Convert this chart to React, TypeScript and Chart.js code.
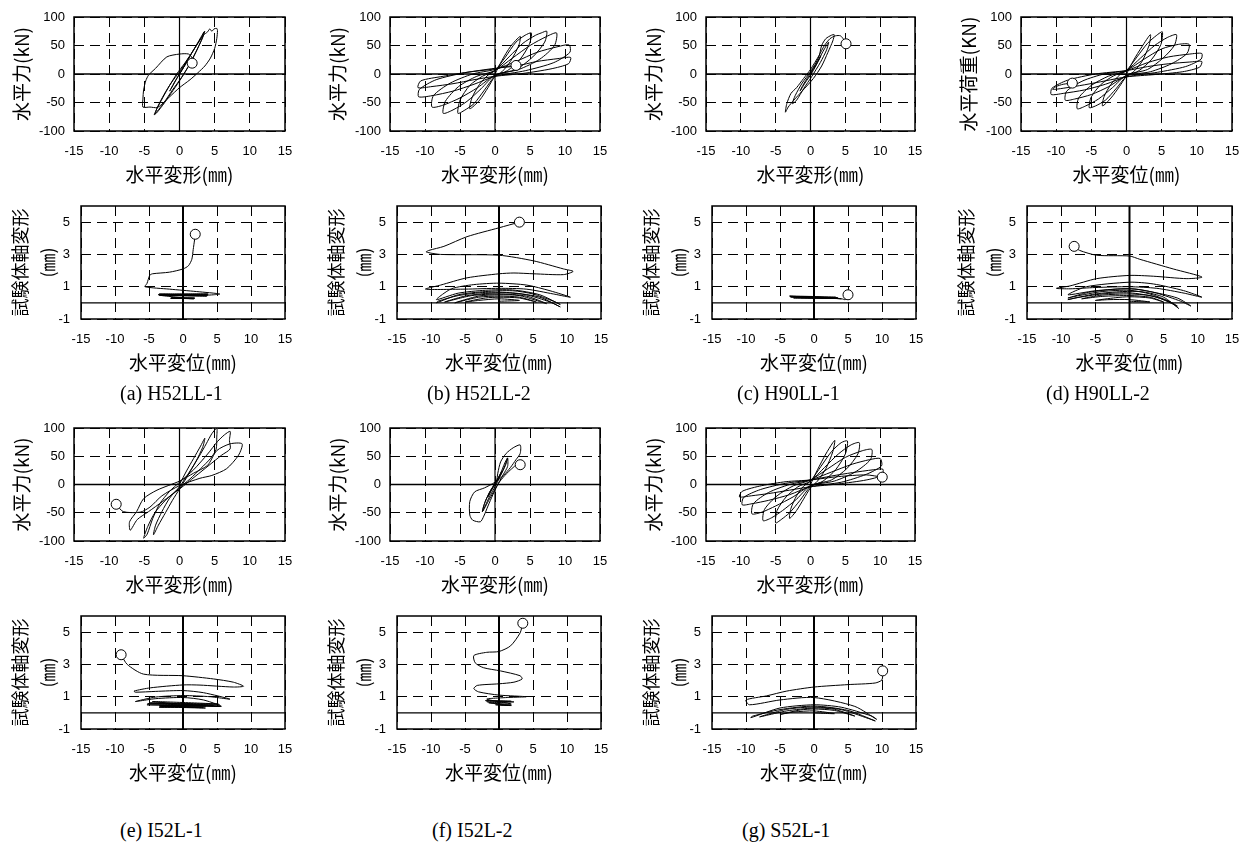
import React, { useEffect, useRef } from "react";
import { Chart, registerables } from "chart.js";

Chart.register(...registerables);

type Pt = [number, number];

// ---------- axes ----------
const X_TICKS = [-15, -10, -5, 0, 5, 10, 15];
const FORCE_TICKS = [-100, -50, 0, 50, 100];
const AXIAL_TICKS = [-1, 1, 3, 5];
const X_MIN = -15;
const X_MAX = 15;
const FORCE_MIN = -100;
const FORCE_MAX = 100;
const AXIAL_MIN = -1;
const AXIAL_MAX = 6;

// ---------- texts ----------
const CAPTIONS = ["(a) H52LL-1", "(b) H52LL-2", "(c) H90LL-1", "(d) H90LL-2", "(e) I52L-1", "(f) I52L-2", "(g) S52L-1"];
const FORCE_Y_TITLES = ["水平力(kN)", "水平力(kN)", "水平力(kN)", "水平荷重(KN)", "水平力(kN)", "水平力(kN)", "水平力(kN)"];
const FORCE_X_TITLES = ["水平変形(㎜)", "水平変形(㎜)", "水平変形(㎜)", "水平変位(㎜)", "水平変形(㎜)", "水平変形(㎜)", "水平変形(㎜)"];
const AXIAL_Y_TITLE = ["試験体軸変形", "(㎜)"];
const AXIAL_X_TITLE = "水平変位(㎜)";

// ---------- data: [horizontal displacement (mm), value] ----------
const A_FORCE: Pt[] = [
  [0, 0], [0.7, 14], [1.4, 30], [1.1, 24], [0.2, 4], [-0.7, -14], [-1.4, -30], [-1.1, -24], [-0.2, -4],
  [0.8, 16], [1.8, 38], [2.6, 55], [3.4, 72], [3.6, 75], [3.3, 64], [2.4, 40], [1.4, 16], [0.3, -6], [-1, -28], [-2.2, -50], [-3.2, -66], [-3.6, -72], [-3.3, -63], [-2.4, -42], [-1.4, -20], [-0.4, 0],
  [0.8, 20], [2, 42], [3.2, 66], [3.5, 74], [3.2, 62], [2.3, 38], [1.2, 12], [0, -12], [-1.2, -34], [-2.4, -55], [-3.4, -70], [-3.2, -60], [-2.2, -36], [-1.2, -16], [0, 4],
  [1.2, 26], [2.4, 50], [3.4, 68], [4, 74], [4.3, 79], [4.6, 75], [4.9, 79], [5.3, 80], [5.4, 76], [5.3, 62], [5, 45], [4.4, 28], [3.6, 14], [2.6, 2], [1.5, -10], [0, -24], [-1.4, -40], [-2.6, -54], [-3.2, -59], [-4.2, -58], [-5.2, -58], [-5.2, -44], [-5.1, -28], [-4.8, -12], [-4.4, -2], [-3.4, 10], [-1.8, 30], [0, 35], [1.3, 35], [1.8, 28], [1.8, 19],
];
const A_AXIAL: Pt[] = [
  [0, 0.3], [1.7, 0.28], [-1.8, 0.3], [1.6, 0.25], [-1.7, 0.32], [1.7, 0.3], [-1.8, 0.27], [0, 0.3],
  [-3.5, 0.48], [3.6, 0.45], [-3.6, 0.52], [3.7, 0.5], [-3.4, 0.46], [3.5, 0.42], [-3.6, 0.5], [3.7, 0.55], [-3.5, 0.55], [3.6, 0.48],
  [5.4, 0.55], [2, 0.7], [-2, 0.85], [-5.6, 1.0], [-5.3, 1.2], [-4.9, 1.7], [-4.5, 1.8], [-2, 1.9], [0, 2.1], [0.8, 2.3], [1.3, 2.7], [1.5, 3.3], [1.7, 3.9], [1.8, 4.25],
];

const B_FORCE: Pt[] = [
  [0, 0], [1, 24], [2.2, 48], [3.6, 66], [3.4, 50], [2.2, 22], [1, 4], [0, -4], [-1, -24], [-2.2, -46], [-3.6, -61], [-3.3, -42], [-2.2, -18], [-1, -2], [0, 6],
  [1.5, 30], [3, 56], [4.3, 68], [5.2, 72], [4.9, 52], [3.6, 26], [1.8, 6], [0, -4], [-1.5, -28], [-3, -52], [-4.4, -64], [-5.3, -69], [-5, -46], [-3.6, -20], [-1.8, -4], [0, 6],
  [2, 30], [4, 54], [5.8, 68], [6.6, 72], [7.4, 75], [7.1, 56], [5.4, 30], [3, 8], [0, -2], [-2, -26], [-4, -48], [-6, -63], [-7.4, -69], [-7.1, -48], [-5.2, -22], [-2.6, -4], [0, 6],
  [2.5, 28], [5, 50], [7.4, 66], [8.8, 72], [8.5, 50], [6.4, 26], [3.4, 8], [0, -2], [-2.5, -24], [-5, -42], [-7.5, -55], [-9, -58], [-8.8, -38], [-6.4, -16], [-3.2, 0], [0, 8],
  [3, 22], [6, 38], [9, 48], [10.6, 51], [10.7, 38], [8.4, 20], [4.4, 6], [0, -4], [-3, -18], [-6, -30], [-9, -38], [-10.9, -40], [-10.8, -27], [-8.4, -10], [-4.4, 2], [0, 10],
  [3, 14], [6, 22], [9, 27], [10.8, 29], [10.5, 18], [8, 9], [4, 1], [0, -4], [-3, -10], [-6, -17], [-9, -22], [-11, -24], [-10.6, -12], [-7.4, -4], [-4, 3], [0, 9], [1.5, 13], [3, 15],
];
const B_AXIAL: Pt[] = [
  [0, 0.1], [3, 0.15], [0, 0.25], [-3, 0.15], [-5, 0.05], [-2, 0.3], [0, 0.35], [3, 0.3], [5.5, 0.05], [3, 0.35], [0, 0.42], [-3, 0.35], [-6.5, 0.0], [-3, 0.42], [0, 0.5], [3, 0.45], [7, -0.05],
  [4, 0.42], [0, 0.55], [-4, 0.45], [-8, 0.05], [-5, 0.42], [-2, 0.58], [1, 0.62], [4, 0.5], [7.5, 0.05], [9, -0.25], [6, 0.35], [2, 0.62], [-2, 0.65], [-6, 0.45], [-9, 0.1], [-9.2, 0.0],
  [-6, 0.5], [-2, 0.7], [2, 0.75], [5, 0.55], [8, 0.1], [9, -0.1], [6, 0.5], [2, 0.8], [-2, 0.78], [-6, 0.6], [-9.2, 0.2],
  [-7, 0.87], [-3.7, 1.13], [0, 1.22], [4.1, 1.1], [7.5, 0.75], [10.5, 0.35], [8, 0.55], [4, 0.85], [0, 0.9], [-5, 0.85], [-10.8, 0.85],
  [-8.6, 1.1], [-4.7, 1.55], [0, 1.8], [2.2, 1.85], [5.1, 1.8], [9.5, 1.75], [10.9, 1.95], [9.5, 2.1], [5.1, 2.6], [0, 2.95], [-8.6, 3.0], [-10.7, 3.15],
  [-10.3, 3.25], [-8.1, 3.5], [-4.7, 4.1], [0, 4.65], [3, 5.0],
];

const C_FORCE: Pt[] = [
  [0, 0], [0.8, 16], [1.5, 32], [1.1, 22], [0.2, 2], [-0.8, -16], [-1.5, -30], [-1.1, -20], [-0.2, -2],
  [1, 22], [2, 44], [2.6, 56], [2.3, 42], [1.4, 20], [0.2, -4], [-1, -26], [-2, -46], [-2.6, -52], [-2.2, -38], [-1.2, -16], [0, 4],
  [1.2, 30], [1.6, 50], [2.2, 62], [3, 68], [3.4, 69], [3.2, 58], [2.5, 38], [1.6, 14], [0.4, -8], [-1.2, -30], [-2.4, -46], [-3.2, -58], [-3.6, -67], [-3.4, -52], [-2.8, -34], [-2, -24], [-1, -8], [0, 8],
  [1.2, 32], [2, 50], [2.8, 62], [3.6, 67], [4.3, 67], [4.8, 60], [5.1, 53],
];
const C_AXIAL: Pt[] = [
  [0, 0.3], [-2, 0.32], [2, 0.28], [-3, 0.38], [3, 0.3], [-3.5, 0.4], [3.5, 0.32], [-3.4, 0.36], [4, 0.26], [-3.6, 0.42], [3.2, 0.35], [-3, 0.3], [3.6, 0.28], [-3.5, 0.38], [0, 0.36], [4.2, 0.24], [4.6, 0.2], [5.0, 0.5],
];

const D_FORCE: Pt[] = [
  [0, 0], [1, 24], [2.2, 48], [3.4, 69], [3.2, 50], [2.2, 22], [1, 4], [0, -4], [-1, -22], [-2.2, -42], [-3.4, -56], [-3.2, -40], [-2.2, -18], [-1, -2], [0, 6],
  [1.5, 30], [3, 54], [4.3, 68], [5.1, 74], [4.9, 52], [3.6, 26], [1.8, 6], [0, -4], [-1.5, -26], [-3, -46], [-4.4, -56], [-5.3, -59], [-5, -40], [-3.6, -18], [-1.8, -3], [0, 6],
  [2, 28], [4, 50], [5.8, 64], [7.1, 69], [6.8, 50], [5.2, 28], [3, 8], [0, -2], [-2, -24], [-4, -44], [-5.8, -56], [-7, -61], [-6.8, -42], [-5, -20], [-2.6, -4], [0, 6],
  [2.5, 26], [5, 44], [7.4, 52], [8.9, 52], [8.6, 36], [6.4, 18], [3.4, 4], [0, -3], [-2.5, -22], [-5, -36], [-7.4, -44], [-8.7, -46], [-8.5, -30], [-6.2, -12], [-3.2, 0], [0, 6],
  [3, 20], [6, 30], [9, 35], [10.7, 36], [10.6, 26], [8.4, 13], [4.4, 3], [0, -5], [-3, -18], [-6, -28], [-9, -34], [-10.7, -36], [-10.6, -25], [-8.4, -11], [-4.4, 0], [0, 6],
  [3, 13], [6, 18], [9, 21], [10.7, 22], [10.4, 12], [8, 4], [4, -1], [0, -5], [-3, -12], [-6, -19], [-9, -25], [-10.5, -27], [-10, -22], [-9, -18], [-7.7, -16],
];
const D_AXIAL: Pt[] = [
  [0, 0.1], [3, 0.05], [0, 0.2], [-3, 0.2], [-5, 0.15], [-2, 0.32], [0, 0.38], [3, 0.3], [5, 0.05], [3, 0.35], [0, 0.45], [-4, 0.4], [-7, 0.25], [-4, 0.48], [0, 0.55], [3, 0.45], [6, 0.05], [7, -0.2],
  [4, 0.35], [0, 0.62], [-4, 0.55], [-8, 0.3], [-9, 0.2], [-5, 0.55], [-1, 0.7], [2, 0.68], [5, 0.35], [7.2, -0.35], [6, 0.05], [3, 0.55], [0, 0.78], [-4, 0.7], [-8, 0.4], [-9, 0.3],
  [-6, 0.65], [-2, 0.85], [1, 0.85], [4, 0.6], [7.5, 0.1], [9, -0.2], [7, 0.3], [3, 0.7], [0, 0.88], [-5, 0.75], [-9, 0.5],
  [-6.3, 1.0], [0, 1.28], [3.5, 1.17], [7.9, 0.76], [10.6, 0.35], [8, 0.6], [4, 0.9], [0, 1.0], [-5, 0.95], [-8.7, 0.87], [-10.7, 0.9],
  [-8.7, 1.05], [-4.8, 1.5], [0, 1.7], [3.5, 1.65], [8.4, 1.5], [10.6, 1.6], [6.4, 2.1], [1.5, 2.7], [0, 2.9], [-4.8, 2.95], [-7.3, 3.25], [-8.1, 3.5],
];

const E_FORCE: Pt[] = [
  [0, 0], [1, 24], [2, 46], [3, 68], [3.6, 82], [3.3, 66], [2.3, 40], [1, 12], [0, -8], [-1, -28], [-2, -50], [-3, -72], [-3.7, -89], [-3.4, -72], [-2.5, -48], [-1.4, -24], [0, -4],
  [1.4, 22], [2.8, 50], [3.8, 72], [4.6, 90], [5.3, 100], [5.3, 84], [5.2, 62], [4.4, 46], [3, 28], [1.5, 10], [0, -6], [-2, -28], [-3.5, -50], [-4.5, -74], [-5.1, -95], [-4.6, -88], [-3.8, -60], [-2.8, -34], [-1.4, -12], [0, 4],
  [2, 26], [4, 54], [5.4, 76], [6.4, 88], [7.2, 94], [7.1, 78], [7.2, 63], [6, 52], [4.2, 34], [2.2, 14], [0, -8], [-2.4, -30], [-4.4, -48], [-6, -62], [-7, -81], [-7.1, -66], [-6.1, -48], [-5.1, -25], [-3.2, -10], [0, 6],
  [2, 20], [4, 34], [5.3, 60], [7.2, 72], [8.9, 72], [8.4, 52], [6.7, 28], [4.6, 16], [2.9, 11], [0, -2], [-2.5, -20], [-4.2, -40], [-5.6, -49], [-8, -48], [-9, -35],
];
const E_AXIAL: Pt[] = [
  [0, 0.4], [-3.5, 0.35], [3, 0.35], [-3.3, 0.45], [3.4, 0.42], [-3.4, 0.38], [3.3, 0.3], [-3.5, 0.44], [4.5, 0.45], [-5.3, 0.5], [5.5, 0.4], [-5.2, 0.58], [5.4, 0.48], [-5, 0.62], [5.2, 0.55], [-4.5, 0.7], [5.6, 0.4],
  [3, 0.8], [0, 0.95], [-4, 0.88], [-7, 0.7], [-4, 0.98], [0, 1.07], [4, 1.0], [6.9, 0.85], [3, 1.25], [0, 1.38], [-4, 1.33], [-7, 1.28], [-7.2, 1.35],
  [-4.8, 1.55], [0, 1.73], [2.5, 1.72], [7.4, 1.6], [8.9, 1.65], [7.4, 1.9], [4.5, 2.1], [0, 2.3], [-5.8, 2.4], [-8.2, 3.0], [-9.1, 3.6],
];

const F_FORCE: Pt[] = [
  [0, 0], [0.5, 12], [1, 24], [0.6, 14], [0, 2], [-0.5, -10], [-1, -22], [-0.6, -12], [0, 0],
  [1, 22], [1.5, 36], [1.8, 47], [1.5, 34], [0.8, 16], [0, -4], [-0.8, -22], [-1.4, -38], [-1.8, -48], [-1.5, -34], [-0.8, -14], [0, 2],
  [0.8, 20], [1.4, 38], [1.8, 47], [1.8, 32], [1.2, 18], [0.2, -4], [-0.8, -26], [-1.8, -48], [-1.4, -30], [-0.6, -10], [0.2, 6],
  [0.4, 20], [0.8, 40], [1.6, 55], [2.6, 65], [3.6, 70], [3.6, 55], [3.0, 44], [2.2, 30], [1.2, 16], [0, 4], [-1.5, -6], [-2.9, -13], [-3.6, -30], [-3.6, -54], [-3.2, -63], [-2.1, -66],
  [-1.6, -56], [-1, -38], [-0.3, -18], [0.5, 2], [1.4, 16], [2.4, 28], [3.2, 36], [3.6, 35],
];
const F_AXIAL: Pt[] = [
  [0, 0.5], [1.8, 0.48], [-0.5, 0.5], [1.8, 0.45], [0, 0.52], [-1.8, 0.7], [1.8, 0.72], [-2, 0.76], [2.2, 0.68], [-1.5, 0.62], [1.8, 0.55],
  [-1.8, 0.85], [1.2, 0.95], [4, 1.0], [0, 1.1], [-3, 1.3], [-3.7, 1.5], [-3.2, 1.7], [0, 1.8], [2.2, 1.9], [3.4, 2.1], [3.1, 2.3], [0.2, 2.6], [-2.3, 2.8], [-3.5, 3.1], [-3.7, 3.55],
  [-1.8, 3.75], [0, 3.8], [1.7, 4.15], [3.1, 4.95], [3.5, 5.55],
];

const G_FORCE: Pt[] = [
  [0, 0], [1, 26], [2.2, 54], [3.2, 74], [3.5, 78], [3.2, 58], [2.2, 28], [1, 6], [0, -6], [-1, -26], [-2, -46], [-3, -60], [-2.8, -42], [-2, -20], [-1, -3], [0, 6],
  [1.5, 32], [3, 58], [4.4, 74], [5.3, 77], [5, 54], [3.6, 26], [1.8, 6], [0, -4], [-1.5, -28], [-3, -50], [-4.2, -62], [-5, -68], [-4.8, -46], [-3.5, -22], [-1.8, -4], [0, 6],
  [2, 30], [4, 54], [5.8, 70], [7, 74], [6.8, 54], [5.2, 28], [3, 8], [0, -2], [-2, -26], [-4, -46], [-5.6, -59], [-6.8, -64], [-6.6, -44], [-4.8, -20], [-2.4, -2], [0, 8],
  [2.5, 28], [5, 48], [7.5, 60], [8.8, 62], [8.6, 44], [6.4, 22], [3.4, 6], [0, -2], [-2.5, -22], [-5, -38], [-7, -49], [-8.4, -52], [-8.2, -34], [-6, -14], [-3, 0], [0, 8],
  [3, 22], [6, 36], [8.5, 44], [10, 46], [10.2, 33], [8, 18], [4.4, 4], [0, -4], [-3, -18], [-6, -28], [-8.4, -34], [-9.8, -36], [-9.6, -23], [-7.2, -9], [-3.6, 2], [0, 8],
  [3, 15], [6, 21], [9, 26], [10.4, 27], [10.2, 16], [8, 8], [4, 1], [0, -4], [-3, -10], [-6, -16], [-8.5, -20], [-10.2, -22], [-9.8, -12], [-7, -2], [-3.5, 5], [0, 8], [4, 14], [8, 17], [10.3, 13],
];
const G_AXIAL: Pt[] = [
  [0, 0.0], [3, -0.05], [0, 0.12], [-3, 0.05], [-5, -0.1], [-2, 0.18], [0, 0.24], [3, 0.15], [6, -0.2], [3, 0.22], [0, 0.3], [-4, 0.12], [-8, -0.25], [-4, 0.22], [0, 0.36], [4, 0.2], [8, -0.35], [9, -0.5],
  [5, 0.15], [0, 0.42], [-5, 0.2], [-9, -0.2], [-9.3, -0.3], [-5, 0.3], [0, 0.5], [4, 0.35], [8.5, -0.2], [9.2, -0.4], [6, 0.4], [0, 0.95], [-5, 0.8], [-9.5, 0.5],
  [-10, 0.8], [-7, 1.05], [-4, 1.35], [0, 1.6], [5, 1.75], [9, 1.85], [10, 2.05], [10.1, 2.6],
];

const FORCE_SERIES = [A_FORCE, B_FORCE, C_FORCE, D_FORCE, E_FORCE, F_FORCE, G_FORCE];
const AXIAL_SERIES = [A_AXIAL, B_AXIAL, C_AXIAL, D_AXIAL, E_AXIAL, F_AXIAL, G_AXIAL];

// ---------- layout (page pixels) ----------
const COLS = [
  { fx: 74, fw: 211, ax: 81, aw: 204 },
  { fx: 390, fw: 210, ax: 397, aw: 204 },
  { fx: 706, fw: 209, ax: 712, aw: 204 },
  { fx: 1021, fw: 211, ax: 1027, aw: 205 },
];
const ROWS = [
  { fy: 17, fh: 114, ay: 206, ah: 113, cy: 393 },
  { fy: 428, fh: 113, ay: 616, ah: 113, cy: 830 },
];
const CAPTION_X = [120, 427, 737, 1046, 120, 432, 742];

const TICK_FONT = { family: '"Liberation Sans", Arial, sans-serif', size: 13 };
const CJK = '"Noto Sans CJK JP", "Noto Sans CJK SC", sans-serif';

const framePlugin = {
  id: "frame",
  afterDatasetsDraw(chart: any) {
    const { ctx, chartArea: a } = chart;
    ctx.save();
    ctx.setLineDash([]);
    ctx.strokeStyle = "#000";
    ctx.lineWidth = 1.5;
    ctx.strokeRect(a.left, a.top, a.right - a.left, a.bottom - a.top);
    ctx.restore();
  },
};

type PlotProps = {
  kind: "force" | "axial";
  series: Pt[];
  yTitle: string | string[];
  xTitle: string;
  left: number;
  top: number;
  w: number;
  h: number;
};

const X_H = 56;
const PAD_T = 24;
const PAD_R = 26;

function Plot({ kind, series, yTitle, xTitle, left, top, w, h }: PlotProps) {
  const ref = useRef<HTMLCanvasElement>(null);
  const isForce = kind === "force";
  const yW = isForce ? 72 : 80;
  const cw = yW + w + PAD_R;
  const ch = PAD_T + h + X_H;

  useEffect(() => {
    if (!ref.current) return;
    const yMin = isForce ? FORCE_MIN : AXIAL_MIN;
    const yMax = isForce ? FORCE_MAX : AXIAL_MAX;
    const yTicks = isForce ? FORCE_TICKS : AXIAL_TICKS;
    const last = series.length - 1;
    const chart = new Chart(ref.current, {
      type: "scatter",
      data: {
        datasets: [
          {
            data: series.map(([x, y]) => ({ x, y })),
            showLine: true,
            borderColor: "#000",
            borderWidth: 1,
            tension: 0.25,
            pointRadius: (c: any) => (c.dataIndex === last ? 5 : 0),
            pointBackgroundColor: "#fff",
            pointBorderColor: "#000",
            pointBorderWidth: 1,
            order: 0,
          },
          {
            data: [{ x: X_MIN, y: 0 }, { x: X_MAX, y: 0 }],
            showLine: true,
            borderColor: "#000",
            borderWidth: 1.3,
            pointRadius: 0,
            order: 2,
          },
          {
            data: [{ x: 0, y: yMin }, { x: 0, y: yMax }],
            showLine: true,
            borderColor: "#000",
            borderWidth: isForce ? 1.2 : 2,
            pointRadius: 0,
            order: 2,
          },
        ],
      } as any,
      options: {
        animation: false,
        responsive: false,
        maintainAspectRatio: false,
        events: [],
        layout: { padding: { left: 0, top: PAD_T, right: PAD_R, bottom: 0 } },
        plugins: { legend: { display: false }, tooltip: { enabled: false } },
        scales: {
          x: {
            type: "linear",
            min: X_MIN,
            max: X_MAX,
            afterBuildTicks: (s: any) => {
              s.ticks = X_TICKS.map((v) => ({ value: v }));
            },
            afterFit: (s: any) => {
              s.height = X_H;
            },
            ticks: { autoSkip: false, maxRotation: 0, padding: 13, color: "#000", font: TICK_FONT, callback: (v: any) => String(v) },
            grid: { color: "#000", lineWidth: 1, drawTicks: false },
            border: { display: false, dash: [10, 6] },
            title: { display: true, text: xTitle, color: "#000", font: { family: CJK, size: 19, lineHeight: 1.2 }, padding: { top: 0, bottom: 1 } },
          },
          y: {
            type: "linear",
            min: yMin,
            max: yMax,
            afterBuildTicks: (s: any) => {
              s.ticks = yTicks.map((v) => ({ value: v }));
            },
            afterFit: (s: any) => {
              s.width = yW;
            },
            ticks: { autoSkip: false, padding: isForce ? 9 : 11, color: "#000", font: TICK_FONT, callback: (v: any) => String(v) },
            grid: { color: "#000", lineWidth: 1, drawTicks: false },
            border: { display: false, dash: [10, 6] },
            title: isForce
              ? { display: true, text: yTitle, color: "#000", font: { family: CJK, size: 19, lineHeight: 1.2 }, padding: { top: 8, bottom: 0 } }
              : { display: true, text: yTitle, color: "#000", font: { family: CJK, size: 18, lineHeight: 1.55 }, padding: { top: 5, bottom: 0 } },
          },
        },
      } as any,
      plugins: [framePlugin],
    });
    return () => chart.destroy();
  }, []);

  return (
    <canvas
      ref={ref}
      width={cw}
      height={ch}
      style={{ position: "absolute", left: left - yW, top: top - PAD_T, width: cw, height: ch, display: "block" }}
    />
  );
}

export default function App() {
  return (
    <div style={{ position: "absolute", left: 0, top: 0, width: 1239, height: 843, background: "#fff", overflow: "hidden" }}>
      {CAPTIONS.map((cap, i) => {
        const col = COLS[i % 4];
        const row = ROWS[Math.floor(i / 4)];
        return (
          <React.Fragment key={cap}>
            <Plot kind="force" series={FORCE_SERIES[i]} yTitle={FORCE_Y_TITLES[i]} xTitle={FORCE_X_TITLES[i]} left={col.fx} top={row.fy} w={col.fw} h={row.fh} />
            <Plot kind="axial" series={AXIAL_SERIES[i]} yTitle={AXIAL_Y_TITLE} xTitle={AXIAL_X_TITLE} left={col.ax} top={row.ay} w={col.aw} h={row.ah} />
            <div
              style={{
                position: "absolute",
                left: CAPTION_X[i],
                top: row.cy - 13,
                height: 26,
                lineHeight: "26px",
                fontFamily: '"Liberation Serif", "Times New Roman", serif',
                fontSize: 20,
                color: "#000",
                whiteSpace: "nowrap",
              }}
            >
              {cap}
            </div>
          </React.Fragment>
        );
      })}
    </div>
  );
}
